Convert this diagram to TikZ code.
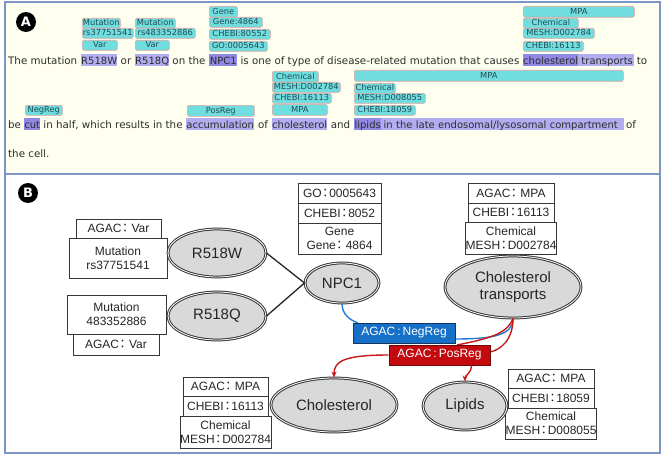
\documentclass[tikz,border=0pt]{standalone}
\usepackage{fontspec}
\setmainfont{Liberation Sans}
\newfontfamily\dejavu{DejaVu Sans}
\newfontfamily\cjkfont{Noto Sans CJK KR}
\usetikzlibrary{arrows.meta,shapes.geometric}
\newcommand{\fcolon}{\hspace{-2.2pt}{\cjkfont ：}\hspace{-2.2pt}}
\newcommand{\acolon}{\hspace{-2.6pt}{\cjkfont ：}\hspace{0.5pt}}
\definecolor{paneA}{RGB}{255,255,240}
\definecolor{frameC}{RGB}{125,150,200}
\definecolor{hlL}{RGB}{178,172,240}
\definecolor{hlD}{RGB}{145,135,228}
\definecolor{labF}{RGB}{112,222,222}
\definecolor{labE}{RGB}{222,165,165}
\definecolor{labT}{RGB}{35,75,85}
\definecolor{txtA}{RGB}{45,45,45}
\definecolor{ellF}{RGB}{217,217,217}
\definecolor{ellE}{RGB}{55,55,55}
\definecolor{negF}{RGB}{22,112,200}
\definecolor{negE}{RGB}{20,55,100}
\definecolor{posF}{RGB}{195,10,15}
\definecolor{posE}{RGB}{110,10,10}
\definecolor{blueL}{RGB}{35,125,215}
\definecolor{redL}{RGB}{200,25,25}
\begin{document}
\begin{tikzpicture}[x=1pt,y=-1pt,
  txt/.style={anchor=base west, inner sep=0, text=txtA, font=\dejavu\fontsize{10.3}{12}\selectfont},
  txc/.style={txt, anchor=base},
  hl/.style={txt, font=\dejavu\fontsize{10}{12}\selectfont, fill=hlL, text height=10pt, text depth=2pt},
  hld/.style={hl, fill=hlD},
  lab/.style={anchor=north west, inner sep=0, fill=labF, draw=labE, line width=0.6pt, rounded corners=1.5pt, text=labT, font=\dejavu\fontsize{8.3}{9}\selectfont, text height=6pt, text depth=1pt},
  badge/.style={circle, fill=black, text=white, minimum size=20pt, inner sep=0, font=\dejavu\bfseries\fontsize{13}{13}\selectfont},
  bx/.style={draw=ellE, line width=0.8pt, fill=white, inner sep=0, align=center, text=black!85, font=\fontsize{12}{14}\selectfont},
  ell/.style={ellipse, draw=ellE, line width=1pt, double=white, double distance=0.8pt, fill=ellF, inner sep=0, align=center, text=black!85, font=\fontsize{15}{17}\selectfont},
  tag/.style={draw, line width=0.9pt, inner sep=0, text=white, font=\fontsize{12}{13}\selectfont, minimum height=20pt},
  blk/.style={line width=1.3pt, black!85},
  bcur/.style={line width=1.4pt, blueL},
  rcur/.style={line width=1.4pt, redL},
  tip/.style={-{Stealth[length=6pt,width=5pt]}}
]
\useasboundingbox (0,0) rectangle (664,460);
% panels
\draw[frameC, line width=1.3pt, fill=paneA] (5,2) rectangle (660,174);
\draw[frameC, line width=1.3pt, fill=white] (5,174) rectangle (660,453);
\node[badge] (la) at (26,22) {A};
\node[badge] (lb) at (28,193) {B};

% ---- panel A, line 1
\node[txt] (t1a) at (8,64) {The mutation};
\node[hl, minimum width=36pt] (w1) at (81,64) {R518W};
\node[txc] (t1b) at (126,64) {or};
\node[hl, minimum width=34pt] (w2) at (135,64) {R518Q};
\node[txc] (t1c) at (189,64) {on the};
\node[hld, minimum width=28pt] (w3) at (209,64) {NPC1};
\node[txc] (t1d) at (380,64) {is one of type of disease-related mutation that causes};
\node[hld, minimum width=55pt] (w4) at (523,64) {cholesterol};
\node[hl, minimum width=56pt] (w5) at (578,64) {\hspace{2pt}transports};
\node[txc] (t1e) at (642,64) {to};
% ---- line 2
\node[txt] (t2a) at (8,128) {be};
\node[hld, minimum width=16pt] (w6) at (24,128) {cut};
\node[txc] (t2b) at (113,128) {in half, which results in the};
\node[hl, minimum width=68pt] (w7) at (186,128) {accumulation};
\node[txc] (t2c) at (263,128) {of};
\node[hl, minimum width=55pt] (w8) at (272,128) {cholesterol};
\node[txc] (t2d) at (340.5,128) {and};
\node[hld, minimum width=27pt] (w9) at (354,128) {lipids};
\node[hl, text width=238pt, inner xsep=2.5pt, align=left] (w10) at (381,128) {in the late endosomal/lysosomal compartment};
\node[txc] (t2e) at (631,128) {of};
% ---- line 3
\node[txt] (t3a) at (8,157) {the cell.};

% ---- labels line 1
\node[lab, minimum width=38pt, minimum height=10pt] (a1) at (82,18) {Mutation};
\node[lab, minimum width=51pt, minimum height=10pt] (a2) at (82,28) {rs37751541};
\node[lab, minimum width=35pt, minimum height=10pt] (a3) at (82,40) {Var};
\node[lab, minimum width=40pt, minimum height=10pt] (a4) at (135,18) {Mutation};
\node[lab, minimum width=60pt, minimum height=10pt] (a5) at (135,28) {rs483352886};
\node[lab, minimum width=34pt, minimum height=10pt] (a6) at (135,40) {Var};
\node[lab, minimum width=28pt, minimum height=11pt] (a7) at (209,6) {Gene};
\node[lab, minimum width=53pt, minimum height=10pt] (a8) at (209,17) {Gene:4864};
\node[lab, minimum width=61pt, minimum height=10pt] (a9) at (209,29) {CHEBI:80552};
\node[lab, minimum width=58pt, minimum height=10pt] (a10) at (209,41) {GO:0005643};
\node[lab, minimum width=111pt, minimum height=11pt] (a11) at (523,6) {MPA};
\node[lab, minimum width=55pt, minimum height=10pt] (a12) at (523,18) {Chemical};
\node[lab, minimum width=71pt, minimum height=10pt] (a13) at (523,28) {MESH:D002784};
\node[lab, minimum width=60pt, minimum height=10pt] (a14) at (523,41) {CHEBI:16113};
% ---- labels line 2
\node[lab, minimum width=37pt, minimum height=10pt] (b1) at (25,105) {NegReg};
\node[lab, minimum width=67pt, minimum height=11pt] (b2) at (187,105) {PosReg};
\node[lab, minimum width=46pt, minimum height=11pt] (b3) at (272,71) {Chemical};
\node[lab, minimum width=68pt, minimum height=10pt] (b4) at (272,82) {MESH:D002784};
\node[lab, minimum width=59pt, minimum height=10pt] (b5) at (272,93) {CHEBI:16113};
\node[lab, minimum width=55pt, minimum height=11pt] (b6) at (272,104) {MPA};
\node[lab, minimum width=269pt, minimum height=11pt] (b7) at (354,70) {MPA};
\node[lab, minimum width=41pt, minimum height=10pt] (b8) at (354,83) {Chemical};
\node[lab, minimum width=71pt, minimum height=10pt] (b9) at (354,93) {MESH:D008055};
\node[lab, minimum width=61pt, minimum height=10pt] (b10) at (354,105) {CHEBI:18059};

% ---- panel B boxes
\node[bx, minimum width=85pt, minimum height=19pt] (v1) at (118.5,228.5) {AGAC\acolon Var};
\node[bx, minimum width=98pt, minimum height=40pt] (m1) at (118,258) {Mutation\\rs37751541};
\node[bx, minimum width=99pt, minimum height=39pt] (m2) at (116.5,314.5) {Mutation\\483352886};
\node[bx, minimum width=86pt, minimum height=21pt] (v2) at (116,344.5) {AGAC\acolon Var};

\node[bx, minimum width=83pt, minimum height=20pt] (g1) at (339.5,193) {GO\fcolon 0005643};
\node[bx, minimum width=83pt, minimum height=20pt] (g2) at (339.5,213) {CHEBI\fcolon 8052};
\node[bx, minimum width=83pt, minimum height=31pt] (g3) at (339.5,238.5) {Gene\\Gene\acolon 4864};

\node[bx, minimum width=86pt, minimum height=20pt] (c1) at (511,193) {AGAC\acolon MPA};
\node[bx, minimum width=86pt, minimum height=19pt] (c2) at (511,212.5) {CHEBI\fcolon 16113};
\node[bx, minimum width=86pt, minimum height=32pt] (c3) at (511,238) {Chemical\\MESH\fcolon D002784};

\node[bx, minimum width=85pt, minimum height=19pt] (d1) at (225.5,386.5) {AGAC\acolon MPA};
\node[bx, minimum width=85pt, minimum height=20pt] (d2) at (225.5,406) {CHEBI\fcolon 16113};
\node[bx, minimum width=85pt, minimum height=32pt] (d3) at (225.5,432) {Chemical\\MESH\fcolon D002784};

\node[bx, minimum width=86pt, minimum height=19pt] (e1) at (551,378.5) {AGAC\acolon MPA};
\node[bx, minimum width=86pt, minimum height=20pt] (e2) at (551,398) {CHEBI\fcolon 18059};
\node[bx, minimum width=86pt, minimum height=31pt] (e3) at (551,423.5) {Chemical\\MESH\fcolon D008055};

% ---- ellipses
\node[ell, minimum width=98pt, minimum height=48pt] (r1) at (217,253) {R518W};
\node[ell, minimum width=98pt, minimum height=48pt] (r2) at (217,316) {R518Q};
\node[ell, minimum width=74pt, minimum height=40pt] (npc) at (342,283) {NPC1};
\node[ell, minimum width=136pt, minimum height=62pt] (ct) at (513,287) {Cholesterol\\transports};
\node[ell, minimum width=126pt, minimum height=54pt] (chol) at (334,405) {Cholesterol};
\node[ell, minimum width=84pt, minimum height=48pt] (lip) at (465,406) {Lipids};

% ---- connectors
\draw[blk] (r1.east) -- (npc.west);
\draw[blk] (r2.east) -- (npc.west);
\draw[bcur] (npc.south) .. controls +(0,11) and +(-8,-3) .. (358,323);
\draw[bcur] (455,339) .. controls +(40,0) and +(0,16) .. (ct.south);
\draw[rcur] (ct.south) .. controls +(-6,16) and +(30,-6) .. (457,345);
\draw[rcur] (ct.south) .. controls +(0,22) and +(10,-2) .. (490,352);

% ---- regulation tags
\node[tag, draw=negE, fill=negF, minimum width=102pt] (neg) at (404,333) {AGAC\,:\,NegReg};
\node[tag, draw=posE, fill=posF, minimum width=101pt] (pos) at (439.5,355) {AGAC\,:\,PosReg};

\draw[rcur, tip] (pos.west) .. controls +(-45,0) and +(0,-16) .. (chol.north);
\draw[rcur, tip] (pos.-18) .. controls +(0,7) and +(0,-6) .. (lip.north);
\end{tikzpicture}
\end{document}
